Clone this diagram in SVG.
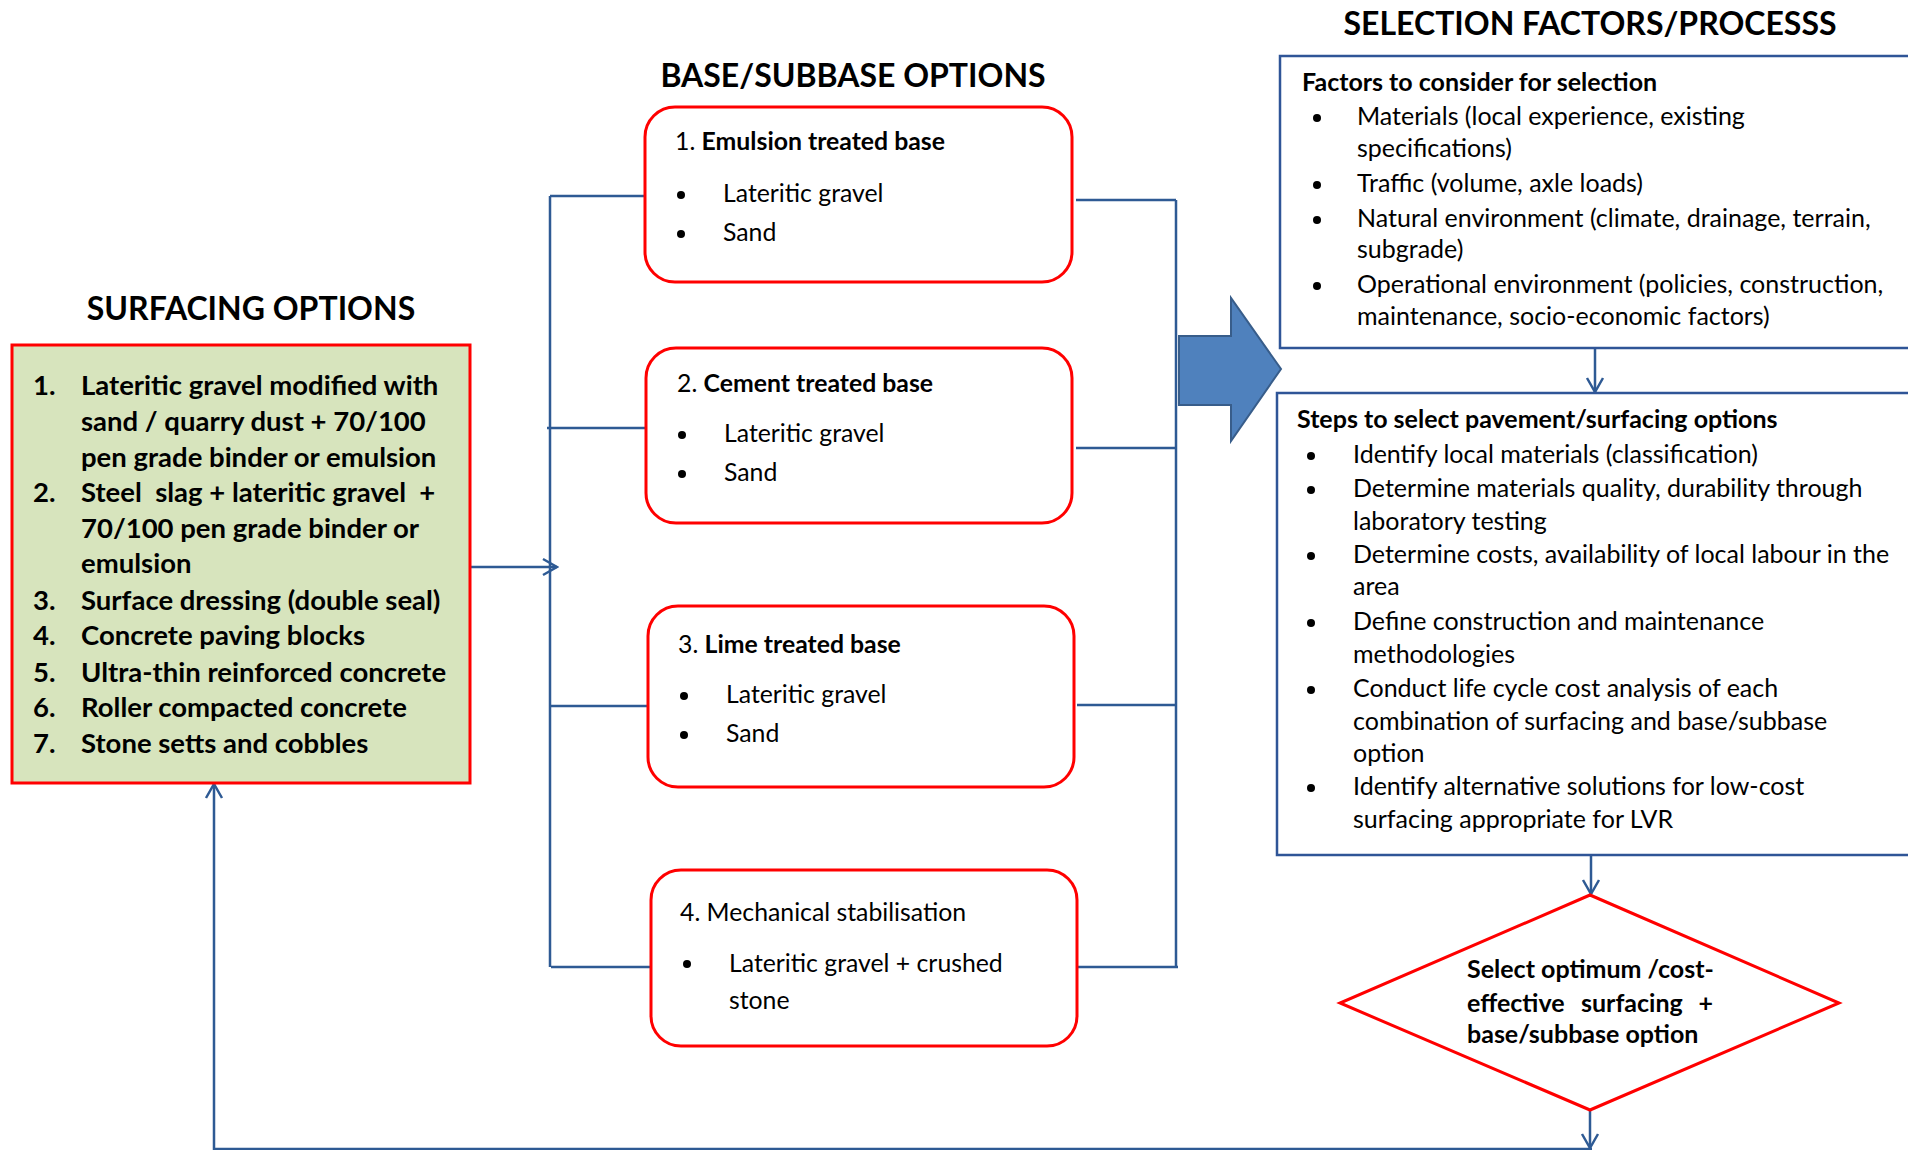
<svg xmlns="http://www.w3.org/2000/svg" width="1908" height="1150" viewBox="0 0 1908 1150">
<style>
text{font-family:Lato,"Liberation Sans",sans-serif;fill:#000}
.h{font-weight:bold;font-size:32px}
.si{font-weight:bold;font-size:27.5px}
.bt{font-size:24.8px}
.b{font-weight:bold}
.bx{fill:#fff;stroke:#ff0000;stroke-width:3}
.fb{fill:#fff;stroke:#2f5597;stroke-width:2.5}
.t{font-size:25px}
.d{font-size:25px;font-weight:bold}
.c{fill:none;stroke:#2e5a94;stroke-width:2.5}
</style>
<defs>
<marker id="ar" viewBox="0 0 20 20" refX="18" refY="10" markerWidth="20" markerHeight="20" markerUnits="userSpaceOnUse" orient="auto">
<path d="M4,2 L18,10 L4,18" fill="none" stroke="#2e5a94" stroke-width="2.5"/>
</marker>
</defs>
<rect width="1908" height="1150" fill="#fff"/>
<text class="h" x="251" y="320" text-anchor="middle">SURFACING OPTIONS</text>
<text class="h" x="853" y="87" text-anchor="middle">BASE/SUBBASE OPTIONS</text>
<text class="h" x="1590" y="35" text-anchor="middle">SELECTION FACTORS/PROCESSS</text>

<g id="connectors">
<path class="c" d="M470,567 H557" marker-end="url(#ar)"/>
<path class="c" d="M550,196 V967"/>
<path class="c" d="M550,196 H645 M547,428 H646 M551,706 H648 M551,967 H651"/>
<path class="c" d="M1176,200 V967"/>
<path class="c" d="M1076,200 H1176 M1076,448 H1176 M1077,705 H1176 M1077,967 H1178"/>
<path class="c" d="M1595,348 V392" marker-end="url(#ar)"/>
<path class="c" d="M1591,855 V894" marker-end="url(#ar)"/>
<path class="c" d="M1590,1110 V1148" marker-end="url(#ar)"/>
<path class="c" d="M1592,1149 H214 V784" marker-end="url(#ar)"/>
</g>

<g id="surfacing">
<rect x="12" y="345" width="458" height="438" fill="#d7e4bd" stroke="#ff0000" stroke-width="3"/>
<g class="si">
<text x="33" y="395">1.</text><text x="81" y="395">Lateritic gravel modified with</text>
<text x="81" y="431">sand / quarry dust + 70/100</text>
<text x="81" y="467">pen grade binder or emulsion</text>
<text x="33" y="502">2.</text><text x="81" y="502" xml:space="preserve">Steel  slag + lateritic gravel  +</text>
<text x="81" y="538">70/100 pen grade binder or</text>
<text x="81" y="573">emulsion</text>
<text x="33" y="610">3.</text><text x="81" y="610">Surface dressing (double seal)</text>
<text x="33" y="645">4.</text><text x="81" y="645">Concrete paving blocks</text>
<text x="33" y="682">5.</text><text x="81" y="682">Ultra-thin reinforced concrete</text>
<text x="33" y="717">6.</text><text x="81" y="717">Roller compacted concrete</text>
<text x="33" y="753">7.</text><text x="81" y="753">Stone setts and cobbles</text>
</g>
</g>

<g id="base1">
<rect class="bx" x="645" y="107" width="427" height="175" rx="30"/>
<text class="bt" x="675" y="150">1. <tspan class="b">Emulsion treated base</tspan></text>
<circle cx="681" cy="195" r="4"/><text class="bt" x="723" y="202">Lateritic gravel</text>
<circle cx="681" cy="234" r="4"/><text class="bt" x="723" y="241">Sand</text>
</g>
<g id="base2">
<rect class="bx" x="646" y="348" width="426" height="175" rx="30"/>
<text class="bt" x="677" y="392">2. <tspan class="b">Cement treated base</tspan></text>
<circle cx="682" cy="435" r="4"/><text class="bt" x="724" y="442">Lateritic gravel</text>
<circle cx="682" cy="474" r="4"/><text class="bt" x="724" y="481">Sand</text>
</g>
<g id="base3">
<rect class="bx" x="648" y="606" width="426" height="181" rx="30"/>
<text class="bt" x="678" y="653">3. <tspan class="b">Lime treated base</tspan></text>
<circle cx="684" cy="696" r="4"/><text class="bt" x="726" y="703">Lateritic gravel</text>
<circle cx="684" cy="735" r="4"/><text class="bt" x="726" y="742">Sand</text>
</g>
<g id="base4">
<rect class="bx" x="651" y="870" width="426" height="176" rx="30"/>
<text class="bt" x="680" y="921">4. Mechanical stabilisation</text>
<circle cx="687" cy="964" r="4"/><text class="bt" x="729" y="972">Lateritic gravel + crushed</text>
<text class="bt" x="729" y="1009">stone</text>
</g>

<g id="bigarrow">
<path d="M1179,336 H1231 V298 L1281,369 L1231,441 V405 H1179 Z" fill="#4f81bd" stroke="#385d8a" stroke-width="2"/>
</g>

<g id="factors">
<rect class="fb" x="1280" y="56" width="640" height="292"/>
<text class="t b" x="1302" y="91">Factors to consider for selection</text>
<g class="t">
<circle cx="1317" cy="118" r="4"/><text x="1357" y="125">Materials (local experience, existing</text>
<text x="1357" y="157">specifications)</text>
<circle cx="1317" cy="185" r="4"/><text x="1357" y="192">Traffic (volume, axle loads)</text>
<circle cx="1317" cy="220" r="4"/><text x="1357" y="227">Natural environment (climate, drainage, terrain,</text>
<text x="1357" y="258">subgrade)</text>
<circle cx="1317" cy="286" r="4"/><text x="1357" y="293">Operational environment (policies, construction,</text>
<text x="1357" y="325">maintenance, socio-economic factors)</text>
</g>
</g>

<g id="steps">
<rect class="fb" x="1277" y="393" width="643" height="462"/>
<text class="t b" x="1297" y="428">Steps to select pavement/surfacing options</text>
<g class="t">
<circle cx="1311" cy="456" r="4"/><text x="1353" y="463">Identify local materials (classification)</text>
<circle cx="1311" cy="490" r="4"/><text x="1353" y="497">Determine materials quality, durability through</text>
<text x="1353" y="530">laboratory testing</text>
<circle cx="1311" cy="556" r="4"/><text x="1353" y="563">Determine costs, availability of local labour in the</text>
<text x="1353" y="595">area</text>
<circle cx="1311" cy="623" r="4"/><text x="1353" y="630">Define construction and maintenance</text>
<text x="1353" y="663">methodologies</text>
<circle cx="1311" cy="690" r="4"/><text x="1353" y="697">Conduct life cycle cost analysis of each</text>
<text x="1353" y="730">combination of surfacing and base/subbase</text>
<text x="1353" y="762">option</text>
<circle cx="1311" cy="788" r="4"/><text x="1353" y="795">Identify alternative solutions for low-cost</text>
<text x="1353" y="828">surfacing appropriate for LVR</text>
</g>
</g>

<g id="decision">
<path d="M1590,895 L1839,1003 L1590,1110 L1340,1003 Z" fill="#fff" stroke="#ff0000" stroke-width="3"/>
<g class="d">
<text x="1467" y="978">Select optimum /cost-</text>
<text x="1467" y="1012">effective</text><text x="1581" y="1012">surfacing</text><text x="1713" y="1012" text-anchor="end">+</text>
<text x="1467" y="1043">base/subbase option</text>
</g>
</g>
</svg>
